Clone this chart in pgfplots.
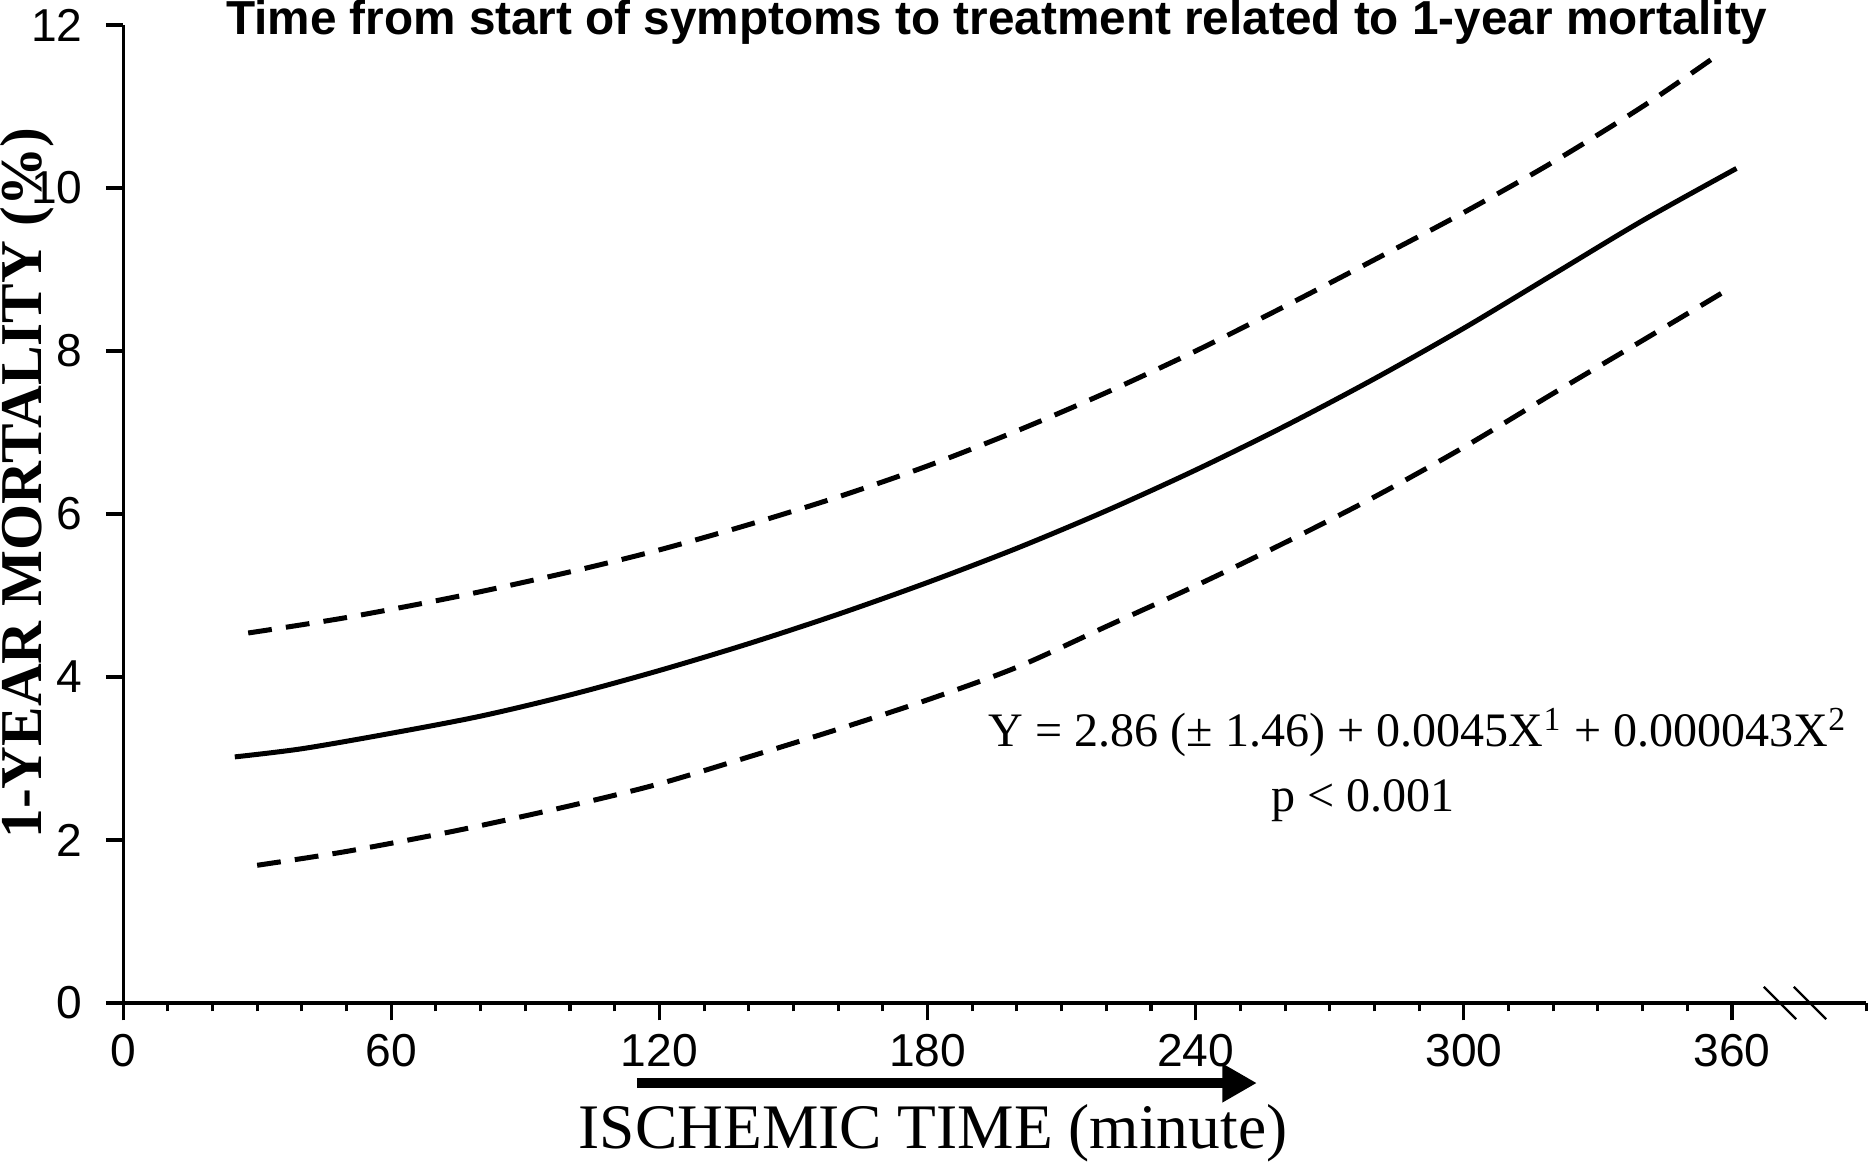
\documentclass[border=0pt]{standalone}
\usepackage{fontspec}
\setmainfont{Liberation Serif}
\newfontfamily\sansfont{Liberation Sans}
\usepackage{pgfplots}
\usepackage{pgfplotstable}
\pgfplotsset{compat=1.18}
\usetikzlibrary{arrows.meta}

\pgfplotstableread{
x y
25 3.02
40 3.12
60 3.31
80 3.52
100 3.78
120 4.08
140 4.41
160 4.77
180 5.16
200 5.58
220 6.04
240 6.54
260 7.08
280 7.66
300 8.28
320 8.94
340 9.60
361 10.24
}\solidtab

\pgfplotstableread{
x y
28 4.54
50 4.73
75 4.99
100 5.29
120 5.56
140 5.87
160 6.21
180 6.59
200 7.02
220 7.49
240 8.00
260 8.55
280 9.12
300 9.70
320 10.32
340 11.00
357 11.64
}\uppertab

\pgfplotstableread{
x y
30 1.69
50 1.86
75 2.12
100 2.42
120 2.69
140 3.02
160 3.36
180 3.72
200 4.12
220 4.62
240 5.12
260 5.65
280 6.21
300 6.82
320 7.48
340 8.13
358 8.72
}\lowertab

\begin{document}
\begin{tikzpicture}
\useasboundingbox (-32pt,-41.1pt) rectangle (455pt,260.8pt);
\begin{axis}[
  at={(0,0)}, anchor=south west,
  scale only axis, width=453.2pt, height=254.3pt,
  xmin=0, xmax=390, ymin=0, ymax=12,
  axis lines*=left,
  axis line style={line width=0.8pt},
  xtick={0,60,...,360}, ytick={0,2,...,12},
  minor xtick={10,20,30,40,50,70,80,90,100,110,130,140,150,160,170,190,200,210,220,230,250,260,270,280,290,310,320,330,340,350,390},
  tick align=outside,
  major tick length=4.5pt, minor tick length=2.2pt,
  tick style={black, line width=0.8pt},
  tick label style={font=\sansfont\fontsize{12}{14}\selectfont},
  yticklabel style={xshift=-2.5pt},
  /pgf/number format/assume math mode=true,
  clip=false,
]
\addplot[black, line width=1.3pt, smooth] table {\solidtab};
\addplot[black, line width=1.3pt, dash pattern=on 6.2pt off 3.7pt, smooth] table {\uppertab};
\addplot[black, line width=1.3pt, dash pattern=on 6.2pt off 3.7pt, smooth] table {\lowertab};
\end{axis}
\node[anchor=base, inner sep=0] at (227.2pt,251.7pt) {\sansfont\bfseries\fontsize{12.4}{14}\selectfont Time from start of symptoms to treatment related to 1-year mortality};
\node[anchor=base, inner sep=0] at (210.6pt,-37.8pt) {\fontsize{16.5}{18}\selectfont ISCHEMIC TIME (minute)};
\draw[line width=2.6pt, -{Triangle[length=9pt,width=9.5pt]}] (133.6pt,-20.8pt) -- (294.8pt,-20.8pt);
\node[anchor=base, inner sep=0] at (336.7pt,66.6pt) {\fontsize{12.5}{15}\selectfont Y = 2.86 (± 1.46) + 0.0045X\textsuperscript{1} + 0.000043X\textsuperscript{2}};
\node[anchor=base, inner sep=0] at (322.4pt,49.7pt) {\fontsize{12.5}{15}\selectfont p < 0.001};
\node[rotate=90, anchor=north, inner sep=0] at (-32pt,135.2pt) {\bfseries\fontsize{15.4}{17}\selectfont 1-YEAR MORTALITY (\%)};
\draw[line width=0.6pt] (426.6pt,4.2pt) -- (435pt,-4.2pt);
\draw[line width=0.6pt] (434.4pt,4.2pt) -- (442.8pt,-4.2pt);
\end{tikzpicture}
\end{document}
